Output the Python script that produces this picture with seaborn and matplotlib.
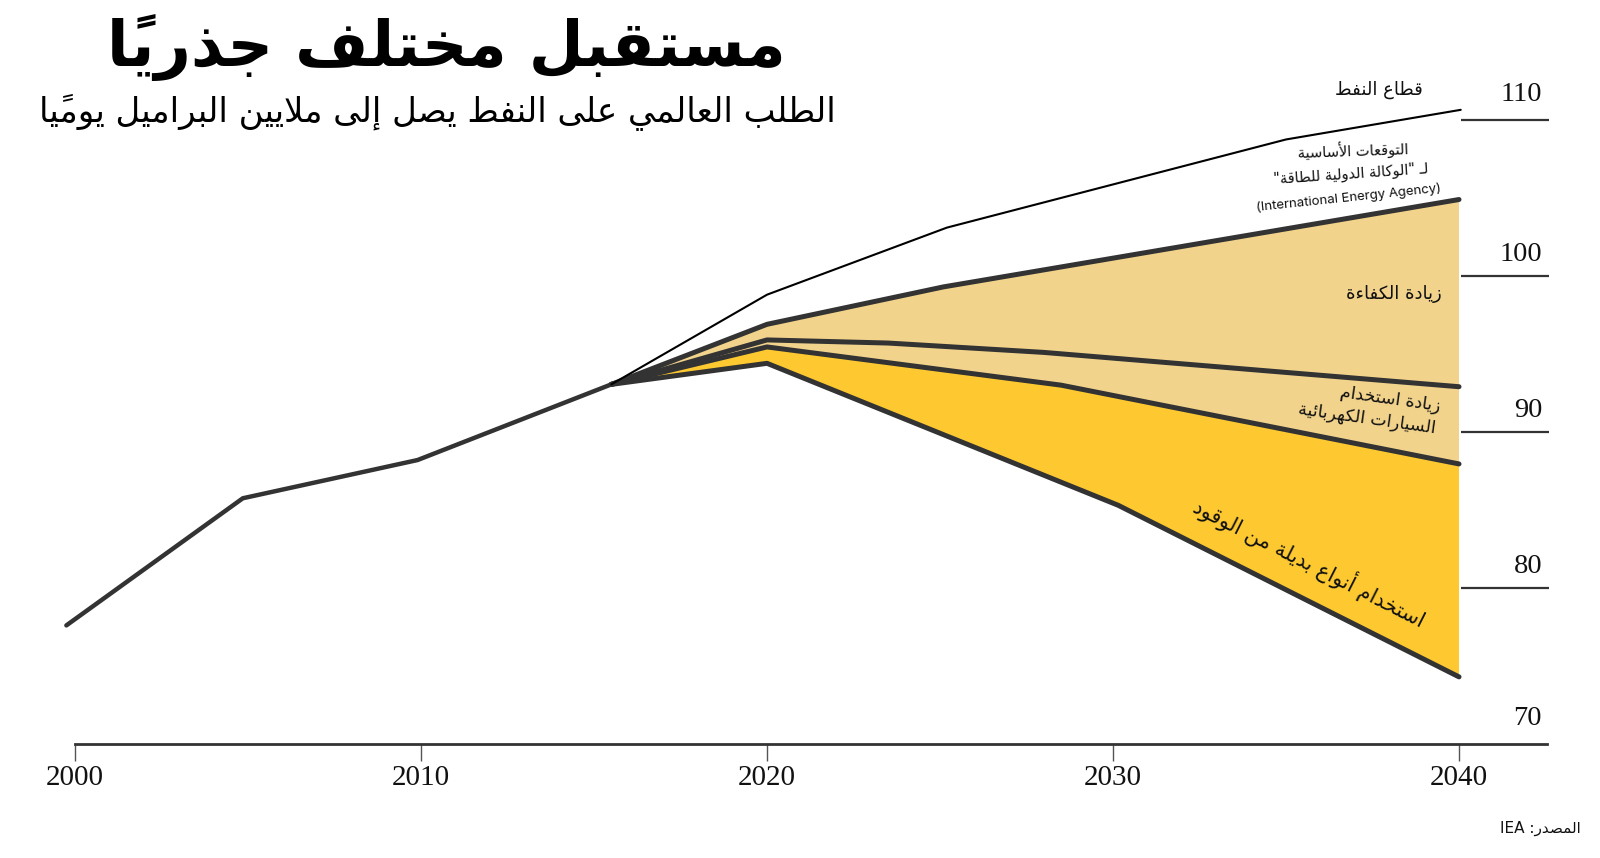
import matplotlib
matplotlib.use("Agg")
import matplotlib.pyplot as plt
import numpy as np
import pandas as pd
import seaborn as sns

# World oil demand, million barrels per day
hist_years = [1999.75, 2004.85, 2009.9, 2015.5]
hist_demand = [77.6, 85.75, 88.2, 93.05]

oil_years = [2015.5, 2020, 2025.2, 2035.0, 2040.05]      # oil sector
oil_demand = [93.05, 98.8, 103.1, 108.75, 110.65]

iea_years = [2015.5, 2020, 2025.1, 2040.0]                # IEA base case
iea_demand = [93.05, 96.9, 99.3, 104.9]

eff_years = [2015.5, 2020, 2023.5, 2028.0, 2040.0]        # more efficiency
eff_demand = [93.05, 95.9, 95.7, 95.1, 92.9]

ev_years = [2015.5, 2020, 2028.5, 2040.0]                 # more electric cars
ev_demand = [93.05, 95.45, 93.0, 87.95]

alt_years = [2015.5, 2020, 2030.15, 2040.0]               # alternative fuels
alt_demand = [93.05, 94.4, 85.3, 74.3]

x_ticks = [2000, 2010, 2020, 2030, 2040]
y_ticks = [70, 80, 90, 100, 110]

title = "مستقبل مختلف جذرياً"
subtitle = "الطلب العالمي على النفط يصل إلى ملايين البراميل يوميًا"
lbl_oil = "قطاع النفط"
lbl_iea = ["التوقعات الأساسية", "لـ \"الوكالة الدولية للطاقة\"", "(International Energy Agency)"]
lbl_eff = "زيادة الكفاءة"
lbl_ev = ["زيادة استخدام", "السيارات الكهربائية"]
lbl_alt = "استخدام أنواع بديلة من الوقود"
source = "المصدر: IEA"

# ---- minimal arabic shaping + bidi (matplotlib does no shaping) ----
FORMS = {
    'ء': (0xFE80, 0), 'آ': (0xFE81, 1), 'أ': (0xFE83, 1), 'ؤ': (0xFE85, 1), 'إ': (0xFE87, 1),
    'ئ': (0xFE89, 2), 'ا': (0xFE8D, 1), 'ب': (0xFE8F, 2), 'ة': (0xFE93, 1), 'ت': (0xFE95, 2),
    'ث': (0xFE99, 2), 'ج': (0xFE9D, 2), 'ح': (0xFEA1, 2), 'خ': (0xFEA5, 2), 'د': (0xFEA9, 1),
    'ذ': (0xFEAB, 1), 'ر': (0xFEAD, 1), 'ز': (0xFEAF, 1), 'س': (0xFEB1, 2), 'ش': (0xFEB5, 2),
    'ص': (0xFEB9, 2), 'ض': (0xFEBD, 2), 'ط': (0xFEC1, 2), 'ظ': (0xFEC5, 2), 'ع': (0xFEC9, 2),
    'غ': (0xFECD, 2), 'ف': (0xFED1, 2), 'ق': (0xFED5, 2), 'ك': (0xFED9, 2), 'ل': (0xFEDD, 2),
    'م': (0xFEE1, 2), 'ن': (0xFEE5, 2), 'ه': (0xFEE9, 2), 'و': (0xFEED, 1), 'ى': (0xFEEF, 1),
    'ي': (0xFEF1, 2),
}
LAM_ALEF = {'آ': 0xFEF5, 'أ': 0xFEF7, 'إ': 0xFEF9, 'ا': 0xFEFB}
TATWEEL = 'ـ'
MIRROR = {'(': ')', ')': '(', '[': ']', ']': '['}


def is_mark(c):
    return '\u064b' <= c <= '\u065f' or c == '\u0670'


def jtype(b):
    if b == TATWEEL:
        return 2
    if len(b) == 2:
        return 1
    return FORMS.get(b, (0, 0))[1]


def shape(text):
    cl = []
    for c in text:
        if is_mark(c) and cl:
            cl[-1][1] += c
        else:
            cl.append([c, ''])
    merged = []
    i = 0
    while i < len(cl):
        b, m = cl[i]
        if b == 'ل' and i + 1 < len(cl) and cl[i + 1][0] in LAM_ALEF:
            merged.append([b + cl[i + 1][0], m + cl[i + 1][1]])
            i += 2
        else:
            merged.append([b, m])
            i += 1
    out = []
    for i, (b, m) in enumerate(merged):
        t = jtype(b)
        prev = i > 0 and jtype(merged[i - 1][0]) == 2 and t > 0
        nxt = t == 2 and i + 1 < len(merged) and jtype(merged[i + 1][0]) > 0
        if b == TATWEEL or t == 0:
            g = b
        elif len(b) == 2:
            g = chr(LAM_ALEF[b[1]] + int(prev))
        elif t == 1:
            g = chr(FORMS[b][0] + int(prev))
        else:
            g = chr(FORMS[b][0] + {(0, 0): 0, (1, 0): 1, (0, 1): 2, (1, 1): 3}[(int(prev), int(nxt))])
        out.append(g + m)
    return out


def ar(text):
    cl = shape(text)

    def kind(c):
        ch = c[0]
        if '\u0600' <= ch <= '\u06ff' or '\ufb50' <= ch <= '\ufeff':
            return 'R'
        if ch.isalnum():
            return 'L'
        return 'N'

    kinds = [kind(c) for c in cl]
    res = []
    for i, k in enumerate(kinds):
        if k != 'N':
            res.append(k)
            continue
        p = next((kinds[j] for j in range(i - 1, -1, -1) if kinds[j] != 'N'), 'R')
        n = next((kinds[j] for j in range(i + 1, len(kinds)) if kinds[j] != 'N'), 'R')
        res.append('L' if p == n == 'L' else 'R')
    runs = []
    for c, k in zip(cl, res):
        if runs and runs[-1][0] == k:
            runs[-1][1].append(c)
        else:
            runs.append([k, [c]])
    s = ''
    for k, cs in reversed(runs):
        if k == 'R':
            s += ''.join(MIRROR.get(c, c) for c in reversed(cs))
        else:
            s += ''.join(cs)
    return s


# ---- figure ----
sns.set_theme(style="white")
plt.rcParams['font.family'] = ['DejaVu Sans']

W, H = 1600, 858
fig = plt.figure(figsize=(W / 100, H / 100), dpi=100)
ax = fig.add_axes([0, 0, 1, 1])
ax.set_xlim(1997.832, 2044.075)
ax.set_ylim(62.69, 117.69)

TAN = '#f2d38c'
YEL = '#fec930'
DARK = '#333333'

ax.fill(iea_years + ev_years[::-1], iea_demand + ev_demand[::-1], color=TAN, lw=0, zorder=1)
ax.fill(ev_years + alt_years[::-1], ev_demand + alt_demand[::-1], color=YEL, lw=0, zorder=1)

frames = {
    'hist': (hist_years, hist_demand, 3.2),
    'iea': (iea_years, iea_demand, 3.6),
    'eff': (eff_years, eff_demand, 3.6),
    'ev': (ev_years, ev_demand, 3.6),
    'alt': (alt_years, alt_demand, 3.6),
}
for name, (xs, ys, lw) in frames.items():
    df = pd.DataFrame({'year': xs, 'demand': ys})
    sns.lineplot(data=df, x='year', y='demand', sort=False, estimator=None, ax=ax,
                 color=DARK, linewidth=lw, solid_capstyle='round', solid_joinstyle='round', zorder=3)

df_oil = pd.DataFrame({'year': oil_years, 'demand': oil_demand})
sns.lineplot(data=df_oil, x='year', y='demand', sort=False, estimator=None, ax=ax,
             color='black', linewidth=1.5, zorder=4)

# axis and right-hand value marks
for s in ['top', 'right', 'left']:
    ax.spines[s].set_visible(False)
ax.spines['bottom'].set_position(('data', 70))
ax.spines['bottom'].set_bounds(2000, 2042.54)
ax.spines['bottom'].set_color(DARK)
ax.spines['bottom'].set_linewidth(2)
ax.set_xticks(x_ticks)
ax.set_xticklabels([str(t) for t in x_ticks], fontfamily='Liberation Serif', fontsize=21, color='#111111')
ax.tick_params(axis='x', direction='out', length=12, width=1, color='#555555', pad=3, bottom=True)
ax.set_yticks([])
ax.set_xlabel('')
ax.set_ylabel('')
ax.grid(False)

ax.hlines(y_ticks[1:], 2040.05, 2042.6, color=DARK, lw=1.6, zorder=2)
for v in y_ticks:
    ax.text(2042.4, v + (0.85 if v in (70, 110) else 0.55), str(v), ha='right', va='bottom',
            fontfamily='Liberation Serif', fontsize=20.5, color='#111111')


def ftext(px, py, s, **kw):
    fig.text(px / W, 1 - py / H, s, **kw)


ftext(446, 66, ar(title), ha='center', va='baseline', fontsize=45.5, fontweight='bold', color='black')
ftext(437, 122, ar(subtitle), ha='center', va='baseline', fontsize=24.5, color='black')

ftext(1423, 90, ar(lbl_oil), ha='right', va='center', fontsize=13, color='#111111')
for i, line in enumerate(lbl_iea):
    fam = ['Inter', 'DejaVu Sans'] if i == 2 else ['DejaVu Sans']
    ftext(1353 - i * 2, 150 + i * 24, ar(line), ha='center', va='center', fontsize=10.5 if i < 2 else 9.5,
          rotation=2 + i * 2, rotation_mode='anchor', family=fam, color='#111111')
ftext(1442, 294, ar(lbl_eff), ha='right', va='center', fontsize=13, color='#111111')
for i, line in enumerate(lbl_ev):
    ftext(1440 - i * 4, 406 + i * 22, ar(line), ha='right', va='center', fontsize=12.5,
          rotation=-8, rotation_mode='anchor', color='#111111')
ftext(1310, 562, ar(lbl_alt), ha='center', va='center', fontsize=14.8, rotation=-26.9,
      rotation_mode='anchor', color='#111111')
ftext(1581, 828, ar(source), ha='right', va='center', fontsize=11, color='#111111')

fig.savefig('out.png', dpi=100)
